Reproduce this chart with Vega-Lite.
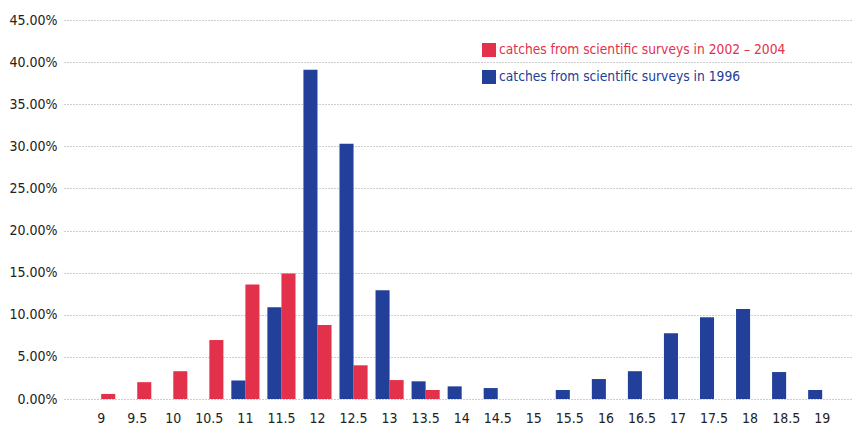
{
  "$schema": "https://vega.github.io/schema/vega-lite/v6.json",
  "width": 789,
  "height": 379,
  "autosize": "none",
  "padding": {"left": 64, "top": 20, "right": 1, "bottom": 27},
  "background": "white",
  "data": {
    "values": [
      {"size": "9", "series": "catches from scientific surveys in 2002 – 2004", "value": 0.006},
      {"size": "9.5", "series": "catches from scientific surveys in 2002 – 2004", "value": 0.020},
      {"size": "10", "series": "catches from scientific surveys in 2002 – 2004", "value": 0.033},
      {"size": "10.5", "series": "catches from scientific surveys in 2002 – 2004", "value": 0.070},
      {"size": "11", "series": "catches from scientific surveys in 2002 – 2004", "value": 0.136},
      {"size": "11.5", "series": "catches from scientific surveys in 2002 – 2004", "value": 0.149},
      {"size": "12", "series": "catches from scientific surveys in 2002 – 2004", "value": 0.088},
      {"size": "12.5", "series": "catches from scientific surveys in 2002 – 2004", "value": 0.040},
      {"size": "13", "series": "catches from scientific surveys in 2002 – 2004", "value": 0.0225},
      {"size": "13.5", "series": "catches from scientific surveys in 2002 – 2004", "value": 0.0107},
      {"size": "11", "series": "catches from scientific surveys in 1996", "value": 0.022},
      {"size": "11.5", "series": "catches from scientific surveys in 1996", "value": 0.109},
      {"size": "12", "series": "catches from scientific surveys in 1996", "value": 0.391},
      {"size": "12.5", "series": "catches from scientific surveys in 1996", "value": 0.303},
      {"size": "13", "series": "catches from scientific surveys in 1996", "value": 0.129},
      {"size": "13.5", "series": "catches from scientific surveys in 1996", "value": 0.021},
      {"size": "14", "series": "catches from scientific surveys in 1996", "value": 0.015},
      {"size": "14.5", "series": "catches from scientific surveys in 1996", "value": 0.013},
      {"size": "15", "series": "catches from scientific surveys in 1996", "value": 0.0},
      {"size": "15.5", "series": "catches from scientific surveys in 1996", "value": 0.0107},
      {"size": "16", "series": "catches from scientific surveys in 1996", "value": 0.0237},
      {"size": "16.5", "series": "catches from scientific surveys in 1996", "value": 0.033},
      {"size": "17", "series": "catches from scientific surveys in 1996", "value": 0.078},
      {"size": "17.5", "series": "catches from scientific surveys in 1996", "value": 0.097},
      {"size": "18", "series": "catches from scientific surveys in 1996", "value": 0.107},
      {"size": "18.5", "series": "catches from scientific surveys in 1996", "value": 0.032},
      {"size": "19", "series": "catches from scientific surveys in 1996", "value": 0.0107}
    ]
  },
  "mark": {"type": "bar"},
  "encoding": {
    "x": {
      "field": "size",
      "type": "nominal",
      "scale": {
        "domain": ["9","9.5","10","10.5","11","11.5","12","12.5","13","13.5","14","14.5","15","15.5","16","16.5","17","17.5","18","18.5","19"],
        "paddingInner": 0.22,
        "paddingOuter": 0.553,
        "align": 0.58
      },
      "axis": {
        "title": null,
        "labelAngle": 0,
        "labelFont": "DejaVu Sans Condensed, Liberation Sans, sans-serif",
        "labelFontSize": 14,
        "labelColor": "#222222",
        "labelPadding": 12,
        "ticks": false,
        "domain": false,
        "grid": false
      }
    },
    "xOffset": {
      "field": "series",
      "type": "nominal",
      "scale": {
        "domain": ["catches from scientific surveys in 1996", "catches from scientific surveys in 2002 – 2004"],
        "paddingInner": 0,
        "paddingOuter": 0
      }
    },
    "y": {
      "field": "value",
      "type": "quantitative",
      "scale": {"domain": [0, 0.45], "nice": false},
      "axis": {
        "title": null,
        "format": ".2%",
        "values": [0, 0.05, 0.1, 0.15, 0.2, 0.25, 0.3, 0.35, 0.4, 0.45],
        "labelFont": "DejaVu Sans Condensed, Liberation Sans, sans-serif",
        "labelFontSize": 14,
        "labelColor": "#222222",
        "labelPadding": 7,
        "ticks": false,
        "domain": false,
        "grid": true,
        "gridColor": "#9a9a9a",
        "gridDash": [1, 2],
        "gridWidth": 1
      }
    },
    "color": {
      "field": "series",
      "type": "nominal",
      "scale": {
        "domain": ["catches from scientific surveys in 2002 – 2004", "catches from scientific surveys in 1996"],
        "range": ["#E4314B", "#22409A"]
      },
      "legend": {
        "title": null,
        "orient": "none",
        "legendX": 418,
        "legendY": 23,
        "symbolType": "square",
        "symbolSize": 196,
        "symbolStrokeWidth": 0,
        "labelFont": "DejaVu Sans Condensed, Liberation Sans, sans-serif",
        "labelFontSize": 13.7,
        "labelOffset": 3,
        "rowPadding": 13,
        "labelLimit": 400,
        "encode": {
          "labels": {"update": {"fill": {"scale": "color", "field": "value"}}}
        }
      }
    }
  },
  "config": {"view": {"stroke": null}}
}
